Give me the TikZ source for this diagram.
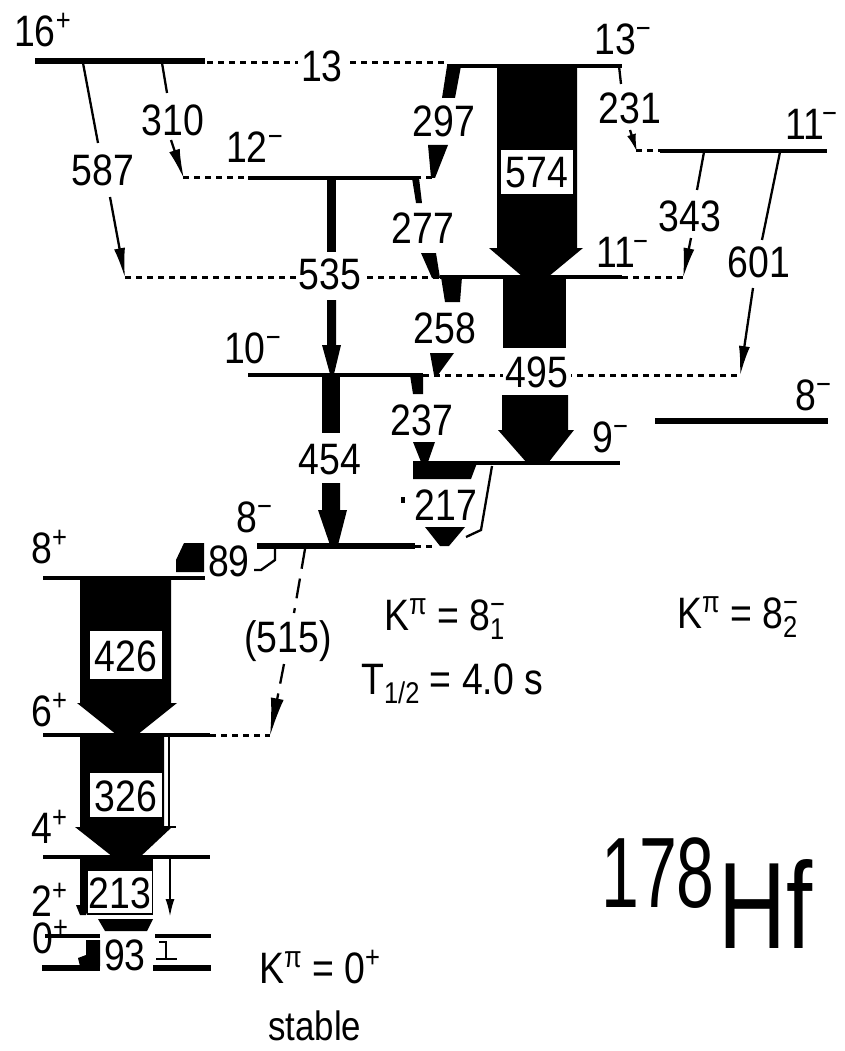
\documentclass[tikz,border=0pt]{standalone}
\usepackage{fontspec}
\setmainfont{Liberation Sans}[FakeStretch=0.85]
\usetikzlibrary{arrows.meta}
\newcommand\spup[1]{\raisebox{16pt}{\fontsize{30}{30}\selectfont #1}}
\newcommand\spsub[1]{\raisebox{-9pt}{\fontsize{30}{30}\selectfont #1}}
\tikzset{
  lev/.style={line width=3.5pt},
  levb/.style={line width=5.5pt},
  dotl/.style={line width=3pt, dash pattern=on 6pt off 5pt},
  tr/.style={line width=2.3pt},
  trh/.style={line width=2.3pt, -{Latex[length=30pt,width=11pt]}},
  trs/.style={line width=2.3pt, -{Latex[length=18pt,width=9pt]}},
  dsh/.style={line width=2.3pt, dash pattern=on 20pt off 10pt},
  txt/.style={font=\fontsize{44}{44}\selectfont, inner sep=0pt},
  lvl/.style={txt, anchor=base west},
  tl/.style={txt, fill=white, inner xsep=3pt, inner ysep=2pt},
  bx/.style={txt, fill=white, draw=black, line width=1.5pt, text height=32pt, text depth=0pt},
}
\begin{document}
\begin{tikzpicture}[x=1pt,y=-1pt]
\fill[white] (0,0) rectangle (844,1051);
\useasboundingbox (0,0) rectangle (844,1051);

% ---------- levels ----------
\draw[levb] (35,61) -- (205,61);            % 16+
\draw[dotl] (207,63) -- (445,63);           % 13 keV
\draw[lev] (447,66) -- (622,66);            % 13-
\draw[dotl] (183,178) -- (248,178);
\draw[lev] (248,178) -- (415,178);          % 12-
\draw[dotl] (415,178) -- (432,178);
\draw[dotl] (125,277) -- (440,277);
\draw[lev] (440,277) -- (622,277);          % 11- (K=8_1)
\draw[dotl] (622,277) -- (683,277);
\draw[dotl] (636,151) -- (660,151);
\draw[lev] (660,151) -- (827,151);          % 11- (K=8_2)
\draw[lev] (248,375) -- (423,375);          % 10-
\draw[dotl] (423,375) -- (740,375);
\draw[lev] (413,463) -- (620,463);          % 9-
\draw[levb] (655,421) -- (828,421);         % 8- (K=8_2)
\draw[levb] (257,546) -- (415,546);         % 8- isomer
\draw[dotl] (415,546) -- (432,546);
\draw[lev] (43,578) -- (205,578);           % 8+
\draw[lev] (43,735) -- (210,735);           % 6+
\draw[dotl] (210,735) -- (270,735);
\draw[lev] (43,857) -- (210,857);           % 4+
\draw[lev] (45,936) -- (100,936);           % 2+
\draw[lev] (155,936) -- (211,936);
\draw[levb] (42,968) -- (100,968);          % 0+
\draw[levb] (153,968) -- (211,968);

% ---------- level labels ----------
\node[lvl] (s16) at (14,47) {16\spup{+}};
\node[lvl] (s13) at (594,55) {13\spup{−}};
\node[lvl] (s12) at (226,163) {12\spup{−}};
\node[lvl] (s11b) at (785,140) {11\kern-2pt\spup{−}};
\node[lvl] (s11a) at (596,267) {11\kern-2pt\spup{−}};
\node[lvl] (s10) at (224,363) {10\spup{−}};
\node[lvl] (s9) at (592,452) {9\spup{−}};
\node[lvl] (s8b) at (795,410) {8\spup{−}};
\node[lvl] (s8a) at (236,532) {8\spup{−}};
\node[lvl] (s8p) at (31,563) {8\spup{+}};
\node[lvl] (s6p) at (31,726) {6\spup{+}};
\node[lvl] (s4p) at (31,843) {4\spup{+}};
\node[lvl] (s2p) at (31,916) {2\spup{+}};
\node[lvl] (s0p) at (32,953) {0\spup{+}};

% ---------- big arrows ----------
\fill (497,66) -- (577,66) -- (577,248) -- (583,248) -- (548,277) -- (523,277) -- (489,248) -- (497,248) -- cycle;
\node[bx, minimum width=74pt, minimum height=46pt] (t574) at (537,172) {574};

\fill (503,277) rectangle (566,348);
\fill (502,395) -- (568,395) -- (568,430) -- (574,430) -- (548,463) -- (527,463) -- (498,430) -- (502,430) -- cycle;
\node[tl] (t495) at (537,372) {495};

\fill (80,578) -- (171,578) -- (171,703) -- (177,703) -- (137,735) -- (117,735) -- (77,703) -- (80,703) -- cycle;
\node[bx, minimum width=74pt, minimum height=50pt] (t426) at (126,655) {426};

\fill (80,737) -- (164,737) -- (164,827) -- (172,827) -- (140,857) -- (113,857) -- (75,827) -- (80,827) -- cycle;
\node[bx, minimum width=74pt, minimum height=46pt] (t326) at (126,795) {326};
\coordinate (c326a) at (169,737);
\coordinate (c326b) at (169,827);
\draw[tr] (c326a) -- (c326b);
\draw[tr] (164,827) -- (176,827);

\fill (80,857) rectangle (153,877);
\fill (80,877) rectangle (88,905);
\fill (76,905) -- (90,905) -- (86,915) -- (80,915) -- cycle;
\node[bx, minimum width=65pt, minimum height=44pt] (t213) at (120,892) {213};
\fill (98,919) -- (153,919) -- (147,931) -- (105,931) -- cycle;
\coordinate (c213a) at (170,857);
\coordinate (c213b) at (170,917);
\draw[trs] (c213a) -- (c213b);

% 93
\fill (86,940) -- (100,940) -- (100,966) -- (80,966) -- (78,958) -- (86,955) -- cycle;
\node[txt] (t93) at (125,955) {93};
\draw[tr] (159,942) -- (166,942) -- (166,959);
\draw[tr] (156,959) -- (177,959);

% 535 and 454
\fill (327,178) rectangle (336,252);
\node[tl] (t535) at (330,274) {535};
\fill (327,300) -- (336,300) -- (336,345) -- (341,345) -- (334,374) -- (330,374) -- (322,345) -- (327,345) -- cycle;
\fill (322,375) rectangle (340,433);
\node[txt] (t454) at (330,460) {454};
\fill (322,483) -- (340,483) -- (340,510) -- (347,510) -- (338,545) -- (330,545) -- (318,510) -- (322,510) -- cycle;

% medium arrows
\fill (447,66) -- (461,66) -- (455,98) -- (442,98) -- cycle;
\node[txt] (t297) at (444,121) {297};
\fill (428,145) -- (448,145) -- (435,178) -- (431,178) -- cycle;

\fill (412,178) -- (419,178) -- (422,203) -- (416,203) -- cycle;
\node[txt] (t277) at (423,228) {277};
\fill (421,253) -- (436,253) -- (440,278) -- (432,278) -- cycle;

\fill (441,277) -- (462,277) -- (460,302) -- (445,302) -- cycle;
\node[txt] (t258) at (445,328) {258};
\fill (430,353) -- (454,353) -- (438,375) -- (434,375) -- cycle;

\fill (410,375) -- (423,375) -- (423,394) -- (413,394) -- cycle;
\node[txt] (t237) at (422,420) {237};
\fill (413,442) -- (435,442) -- (428,462) -- (421,462) -- cycle;

\fill (413,463) -- (477,463) -- (471,479) -- (413,479) -- cycle;
\node[txt] (t217) at (446,505) {217};
\fill (425,527) -- (465,527) -- (449,546) -- (440,546) -- cycle;
\coordinate (c9a) at (492,466);
\coordinate (c9b) at (481,530);
\coordinate (c9c) at (466,537);
\draw[tr] (c9a) -- (c9b) -- (c9c);
\fill (401,497) rectangle (405,503);

% ---------- thin transitions ----------
\coordinate (a587) at (83,63);  \coordinate (b587) at (98,143);
\coordinate (c587) at (110,197); \coordinate (d587) at (125,278);
\draw[tr] (a587) -- (b587);
\node[txt] (t587) at (103,170) {587};
\draw[trh] (c587) -- (d587);

\coordinate (a310) at (162,63);  \coordinate (b310) at (167,93);
\coordinate (c310) at (171,140); \coordinate (d310) at (184,179);
\draw[tr] (a310) -- (b310);
\node[txt] (t310) at (173,120) {310};
\draw[trh] (c310) -- (d310);

\coordinate (a231) at (619,66);  \coordinate (b231) at (621,84);
\coordinate (c231) at (630,130); \coordinate (d231) at (637,152);
\draw[tr] (a231) -- (b231);
\node[txt] (t231) at (630,108) {231};
\draw[trs] (c231) -- (d231);

\coordinate (a343) at (704,152); \coordinate (b343) at (697,190);
\coordinate (c343) at (691,238); \coordinate (d343) at (683,278);
\draw[tr] (a343) -- (b343);
\node[txt] (t343) at (690,216) {343};
\draw[trh] (c343) -- (d343);

\coordinate (a601) at (780,152); \coordinate (b601) at (762,240);
\coordinate (c601) at (753,288); \coordinate (d601) at (740,376);
\draw[tr] (a601) -- (b601);
\node[txt] (t601) at (759,262) {601};
\draw[trh] (c601) -- (d601);

% 89
\fill (184,543) -- (204,543) -- (204,572) -- (176,572) -- (176,560) -- cycle;
\node[txt] (t89) at (229,561) {89};
\coordinate (a89) at (275,548);
\coordinate (b89) at (275,560);
\coordinate (c89) at (261,570);
\coordinate (d89) at (254,570);
\draw[tr] (a89) -- (b89) -- (c89) -- (d89);

% (515)
\coordinate (a515) at (305,549); \coordinate (b515) at (294,613);
\coordinate (c515) at (284,664); \coordinate (d515) at (270,736);
\draw[dsh] (a515) -- (b515);
\node[txt] (t515) at (288,641) {(515)};
\draw[dsh, -{Latex[length=38pt,width=13pt]}] (c515) -- (d515);

% 13 keV label
\node[tl] (t13) at (322,66) {13};

% ---------- annotations ----------
\node[lvl] (k81) at (384,630) {K\spup{π} = 8\rlap{\spup{−}}\spsub{1}};
\node[lvl] (thalf) at (361,694) {T\spsub{1/2} = 4.0 s};
\node[lvl] (k82) at (677,628) {K\spup{π} = 8\rlap{\spup{−}}\spsub{2}};
\node[lvl] (k0) at (259,983) {K\spup{π} = 0\spup{+}};
\node[lvl, font=\fontsize{41}{41}\selectfont] (stab) at (268,1040) {stable};
\node[anchor=base west, inner sep=0pt] (a178) at (601,907) {\scalebox{0.8}[1]{\fontsize{100}{100}\selectfont 178}};
\node[anchor=base west, inner sep=0pt] (hf) at (718,948) {\scalebox{0.9}[1]{\fontsize{123}{123}\selectfont Hf}};
\end{tikzpicture}
\end{document}
